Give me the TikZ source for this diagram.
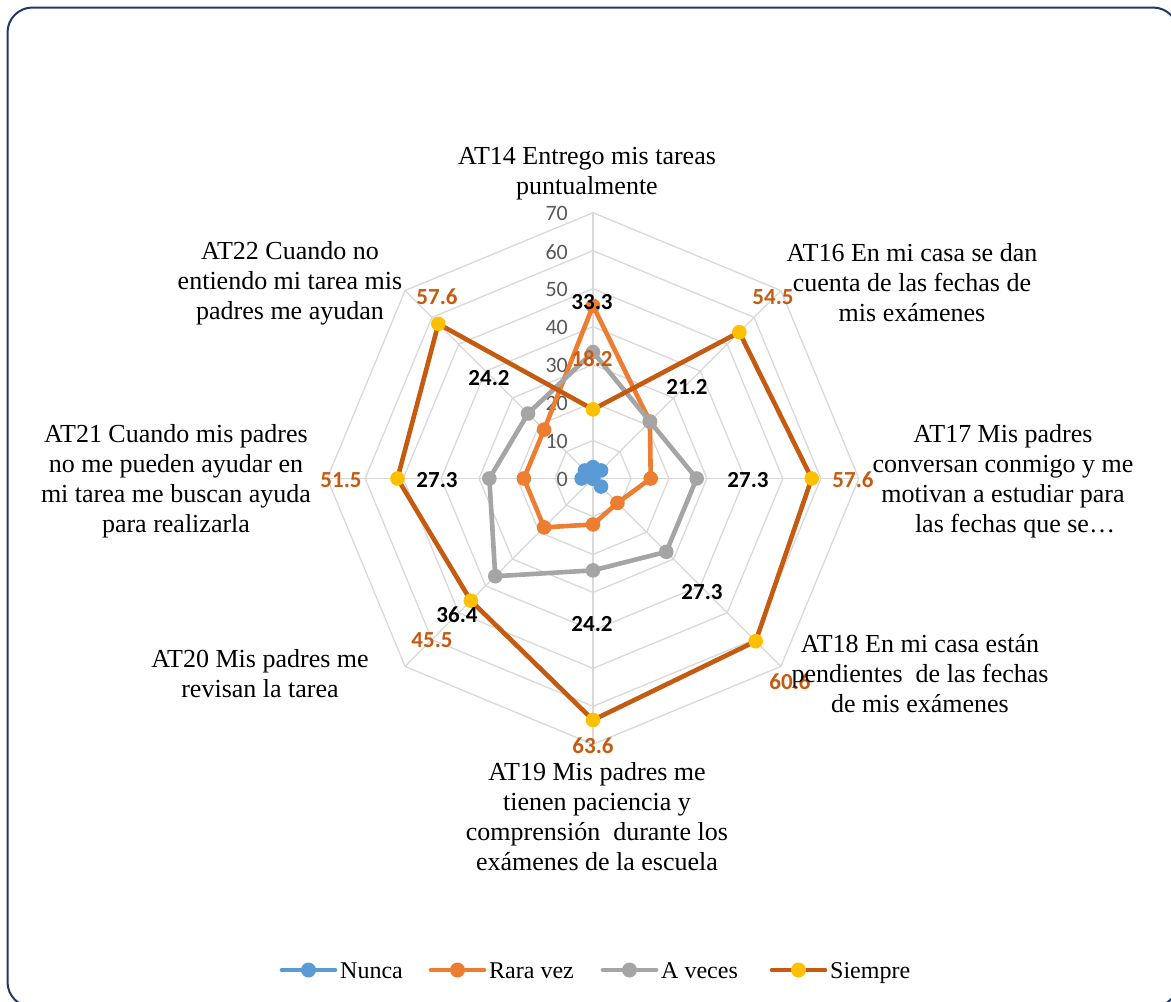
\documentclass[tikz,border=0pt]{standalone}
\usepackage{fontspec}
\setmainfont{Liberation Serif}
\newfontfamily\calib{Carlito}
\definecolor{gridgray}{HTML}{D9D9D9}
\definecolor{tickgray}{HTML}{595959}
\definecolor{cnunca}{HTML}{5B9BD5}
\definecolor{crara}{HTML}{ED7D31}
\definecolor{cveces}{HTML}{A5A5A5}
\definecolor{csiem}{HTML}{C55A11}
\definecolor{cgold}{HTML}{FFC000}
\definecolor{framecol}{HTML}{1F3864}
\begin{document}
\begin{tikzpicture}[x=1pt,y=-1pt,
  grid/.style={draw=gridgray, line width=1.3pt},
  cat/.style={font=\fontsize{26pt}{30pt}\selectfont, align=center, inner sep=0pt},
  tick/.style={font=\calib\fontsize{22pt}{24pt}\selectfont, text=tickgray, anchor=east, inner sep=0pt},
  blab/.style={font=\calib\bfseries\fontsize{23pt}{25pt}\selectfont, text=black, inner sep=0pt},
  olab/.style={blab, text=csiem},
  ser/.style={line width=4.6pt, line join=round, line cap=round},
  leg/.style={font=\fontsize{24pt}{26pt}\selectfont, anchor=base west, inner sep=0pt}]
\useasboundingbox (0,0) rectangle (1171,1002);
\clip (0,0) rectangle (1171,1002);
\fill[white] (0,0) rectangle (1171,1002);
\def\cx{593}\def\cy{478.5}\def\u{3.797}
% frame
\draw[framecol, line width=2pt, rounded corners=25pt] (7.5,7.5) rectangle (1178,1007);
% grid
\coordinate (C) at (\cx,\cy);
\foreach \r in {10,20,...,70}{
  \draw[grid] ({\cx},{\cy-\r*\u})
    \foreach \k in {1,...,7}{ -- ({\cx+\r*\u*sin(45*\k)},{\cy-\r*\u*cos(45*\k)}) } -- cycle;
}
\foreach \k in {0,...,7}{
  \coordinate (g\k) at ({\cx+70*\u*sin(45*\k)},{\cy-70*\u*cos(45*\k)});
  \draw[grid] (C) -- (g\k);
}
% tick labels
\foreach \r in {0,10,...,70}{
  \node[tick] (t\r) at (568,{\cy-\r*\u+1}) {\r};
}
% series
\foreach \name/\lc/\mc/\vals in {
  n/cnunca/cnunca/{3.0,3.0,0,3.0,0,0,3.0,3.0},
  r/crara/crara/{45.5,21.2,15.2,9.1,12.1,18.2,18.2,18.2},
  a/cveces/cveces/{33.3,21.2,27.3,27.3,24.2,36.4,27.3,24.2},
  s/csiem/cgold/{18.2,54.5,57.6,60.6,63.6,45.5,51.5,57.6}}{
  \foreach \v [count=\j from 0] in \vals {
    \coordinate (\name\j) at ({\cx+\v*\u*sin(45*\j)},{\cy-\v*\u*cos(45*\j)});
  }
  \draw[ser, \lc] (\name0) -- (\name1) -- (\name2) -- (\name3) -- (\name4) -- (\name5) -- (\name6) -- (\name7) -- cycle;
  \foreach \j in {0,...,7}{ \fill[\mc] (\name\j) circle (7.3pt); }
}
% data labels (black)
\node[blab] (b1) at (592,302) {33.3};
\node[blab] (b2) at (687,387) {21.2};
\node[blab] (b3) at (489,378) {24.2};
\node[blab] (b4) at (437,480) {27.3};
\node[blab] (b5) at (748,480) {27.3};
\node[blab] (b6) at (702,592) {27.3};
\node[blab] (b7) at (592,624) {24.2};
\node[blab] (b8) at (457,615) {36.4};
% data labels (orange)
\node[olab] (o1) at (592,359) {18.2};
\node[olab] (o2) at (437,297) {57.6};
\node[olab] (o3) at (773,297) {54.5};
\node[olab] (o4) at (853,480) {57.6};
\node[olab] (o5) at (790,682) {60.6};
\node[olab] (o6) at (593,746) {63.6};
\node[olab] (o7) at (432,640) {45.5};
\node[olab] (o8) at (341,480) {51.5};
% category labels
\node[cat] (c14) at (587,174) {AT14 Entrego mis tareas\\puntualmente};
\node[cat] (c16) at (912,283) {AT16 En mi casa se dan\\cuenta de las fechas de\\mis exámenes};
\node[cat] (c17) at (1003,481) {AT17 Mis padres\\conversan conmigo y me\\motivan a estudiar para\\\hspace*{24pt}las fechas que se…};
\node[cat] (c18) at (920,674) {AT18 En mi casa están\\pendientes\ \ de las fechas\\de mis exámenes};
\node[cat] (c19) at (597,817) {AT19 Mis padres me\\tienen paciencia y\\comprensión\ \ durante los\\exámenes de la escuela};
\node[cat] (c20) at (260,674) {AT20 Mis padres me\\revisan la tarea};
\node[cat] (c21) at (176,481) {AT21 Cuando mis padres\\no me pueden ayudar en\\mi tarea me buscan ayuda\\para realizarla};
\node[cat] (c22) at (290,283) {AT22 Cuando no\\entiendo mi tarea mis\\padres me ayudan};
% legend
\foreach \x/\lc/\mc/\txt/\id in {282/cnunca/cnunca/Nunca/l1, 431/crara/crara/Rara vez/l2, 603/cveces/cveces/A veces/l3, 772/csiem/cgold/Siempre/l4}{
  \coordinate (\id a) at (\x,970);
  \coordinate (\id b) at (\x+53,970);
  \coordinate (\id m) at (\x+26.5,970);
  \draw[ser, \lc] (\id a) -- (\id b);
  \fill[\mc] (\id m) circle (7.5pt);
  \node[leg] (\id t) at (\x+58,978) {\txt};
}
\end{tikzpicture}
\end{document}
